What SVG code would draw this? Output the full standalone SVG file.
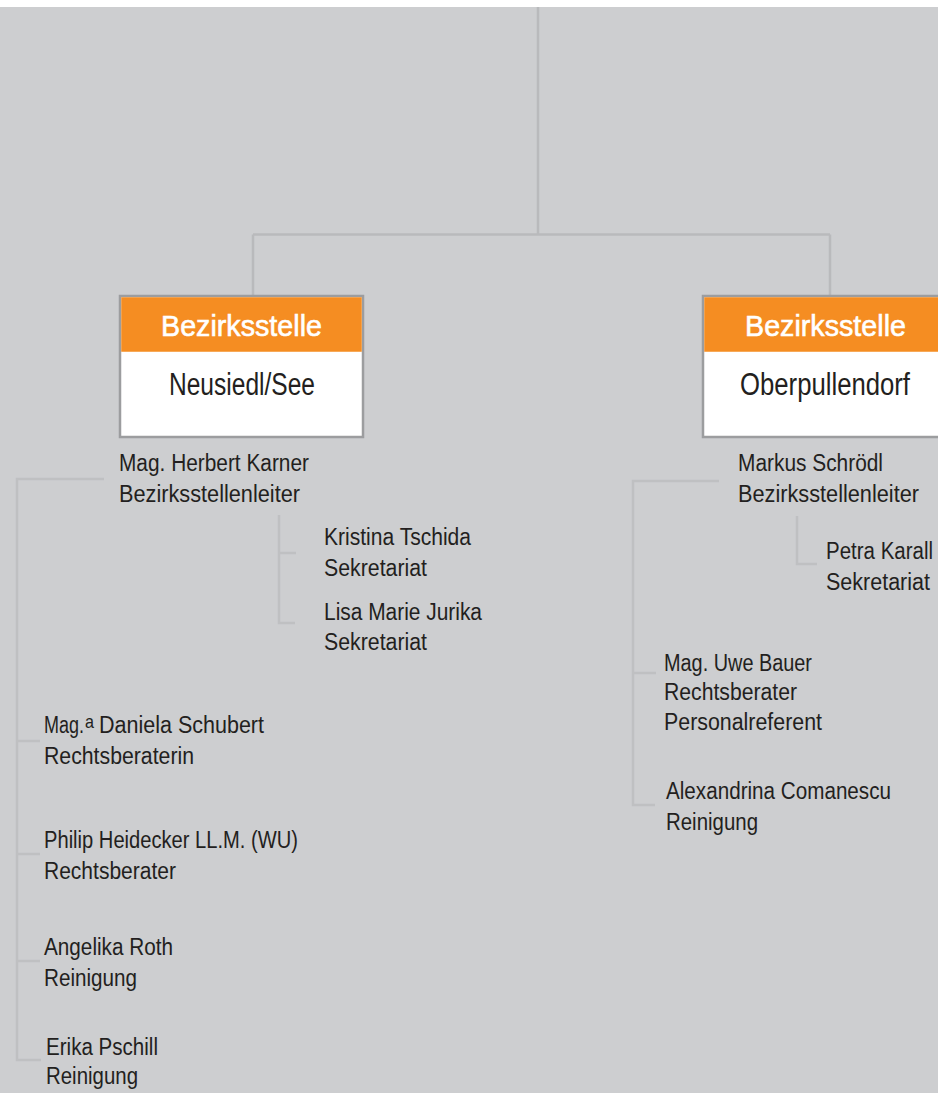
<svg xmlns="http://www.w3.org/2000/svg" width="938" height="1093" viewBox="0 0 938 1093">
<style>
.ln{stroke:#b9babc;stroke-width:2.5;fill:none}
.ln2{stroke:#bfc0c2;stroke-width:2.5;fill:none}
.box{fill:#ffffff;stroke:#9c9d9f;stroke-width:2.5}
.hd{fill:#f58d22}
.ht{font-family:"Liberation Sans",Arial,sans-serif;font-size:30px;fill:#ffffff;stroke:#ffffff;stroke-width:0.6}
.bt{font-family:"Liberation Sans",Arial,sans-serif;font-size:31px;fill:#231f20}
.t{font-family:"Liberation Sans",Arial,sans-serif;font-size:23px;fill:#231f20}
.sup{font-family:"Liberation Sans",Arial,sans-serif;font-size:19px;fill:#231f20}
</style>
<rect x="0" y="0" width="938" height="1093" fill="#cdced0"/>
<rect x="0" y="0" width="938" height="7" fill="#ffffff"/>
<g id="connectors">
<path class="ln" d="M538 7V234.5M253 234.5H830M253 234.5V296M830 234.5V296"/>
<path class="ln2" d="M104 479H17V1060H41M17 741H40M17 854H40M17 961H40"/>
<path class="ln2" d="M279 515V623H295M279 553H296"/>
<path class="ln2" d="M719 481H633V805H655M633 673H656"/>
<path class="ln2" d="M797 516V564H817"/>
</g>
<g id="node-neusiedl">
<rect class="box" x="120" y="296" width="243" height="141"/>
<rect class="hd" x="121.25" y="297.25" width="240.5" height="54.5"/>
<text class="ht" x="161" y="336" textLength="161" lengthAdjust="spacingAndGlyphs">Bezirksstelle</text>
<text class="bt" x="169" y="395" textLength="146" lengthAdjust="spacingAndGlyphs">Neusiedl/See</text>
</g>
<g id="node-oberpullendorf">
<rect class="box" x="703" y="296" width="250" height="141"/>
<rect class="hd" x="704.25" y="297.25" width="240" height="54.5"/>
<text class="ht" x="745" y="336" textLength="161" lengthAdjust="spacingAndGlyphs">Bezirksstelle</text>
<text class="bt" x="740" y="395" textLength="170" lengthAdjust="spacingAndGlyphs">Oberpullendorf</text>
</g>
<g id="person-karner">
<text class="t" x="119" y="471" textLength="190" lengthAdjust="spacingAndGlyphs">Mag. Herbert Karner</text>
<text class="t" x="119" y="502" textLength="181" lengthAdjust="spacingAndGlyphs">Bezirksstellenleiter</text>
</g>
<g id="person-tschida">
<text class="t" x="324" y="545" textLength="147" lengthAdjust="spacingAndGlyphs">Kristina Tschida</text>
<text class="t" x="324" y="576" textLength="103" lengthAdjust="spacingAndGlyphs">Sekretariat</text>
</g>
<g id="person-jurika">
<text class="t" x="324" y="620" textLength="158" lengthAdjust="spacingAndGlyphs">Lisa Marie Jurika</text>
<text class="t" x="324" y="650" textLength="103" lengthAdjust="spacingAndGlyphs">Sekretariat</text>
</g>
<g id="person-schubert">
<text class="t" x="44" y="733" textLength="40" lengthAdjust="spacingAndGlyphs">Mag.</text>
<text class="sup" x="85" y="728" textLength="9" lengthAdjust="spacingAndGlyphs">a</text>
<text class="t" x="99" y="733" textLength="165" lengthAdjust="spacingAndGlyphs">Daniela Schubert</text>
<text class="t" x="44" y="764" textLength="150" lengthAdjust="spacingAndGlyphs">Rechtsberaterin</text>
</g>
<g id="person-heidecker">
<text class="t" x="44" y="848" textLength="254" lengthAdjust="spacingAndGlyphs">Philip Heidecker LL.M. (WU)</text>
<text class="t" x="44" y="879" textLength="132" lengthAdjust="spacingAndGlyphs">Rechtsberater</text>
</g>
<g id="person-roth">
<text class="t" x="44" y="955" textLength="129" lengthAdjust="spacingAndGlyphs">Angelika Roth</text>
<text class="t" x="44" y="986" textLength="93" lengthAdjust="spacingAndGlyphs">Reinigung</text>
</g>
<g id="person-pschill">
<text class="t" x="46" y="1055" textLength="112" lengthAdjust="spacingAndGlyphs">Erika Pschill</text>
<text class="t" x="46" y="1084" textLength="92" lengthAdjust="spacingAndGlyphs">Reinigung</text>
</g>
<g id="person-schroedl">
<text class="t" x="738" y="471" textLength="145" lengthAdjust="spacingAndGlyphs">Markus Schrödl</text>
<text class="t" x="738" y="502" textLength="181" lengthAdjust="spacingAndGlyphs">Bezirksstellenleiter</text>
</g>
<g id="person-karall">
<text class="t" x="826" y="559" textLength="107" lengthAdjust="spacingAndGlyphs">Petra Karall</text>
<text class="t" x="826" y="590" textLength="104" lengthAdjust="spacingAndGlyphs">Sekretariat</text>
</g>
<g id="person-bauer">
<text class="t" x="664" y="671" textLength="148" lengthAdjust="spacingAndGlyphs">Mag. Uwe Bauer</text>
<text class="t" x="664" y="700" textLength="133" lengthAdjust="spacingAndGlyphs">Rechtsberater</text>
<text class="t" x="664" y="730" textLength="158" lengthAdjust="spacingAndGlyphs">Personalreferent</text>
</g>
<g id="person-comanescu">
<text class="t" x="666" y="799" textLength="225" lengthAdjust="spacingAndGlyphs">Alexandrina Comanescu</text>
<text class="t" x="666" y="830" textLength="92" lengthAdjust="spacingAndGlyphs">Reinigung</text>
</g>
</svg>
